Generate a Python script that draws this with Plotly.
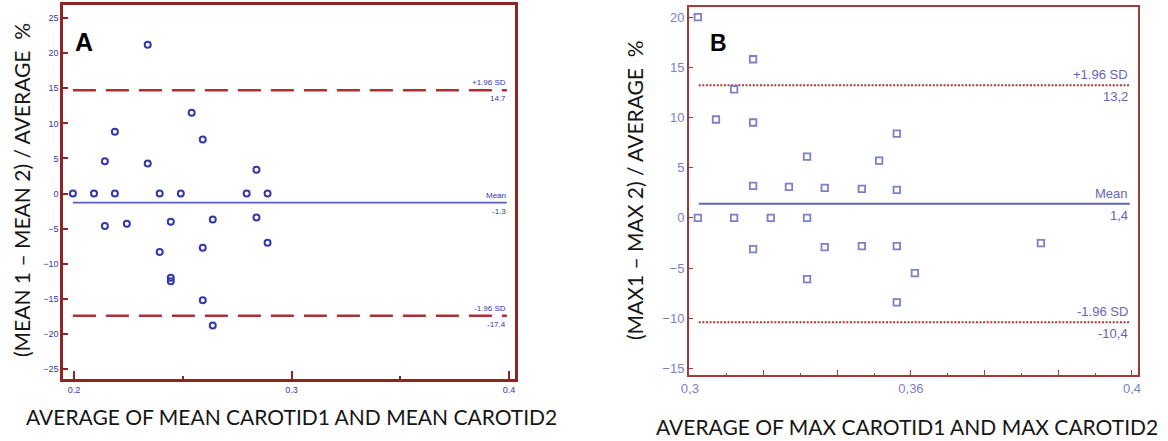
import plotly.graph_objects as go

# ---------------- data ----------------
# Panel A: Bland-Altman of mean carotid measurements
a_x = [0.1995, 0.2092, 0.2188, 0.2142, 0.2188, 0.2339, 0.2339, 0.2394, 0.2491, 0.2541,
       0.2592, 0.2794, 0.2839, 0.2890, 0.2142, 0.2243, 0.2445, 0.2638, 0.2839, 0.2394,
       0.2592, 0.2890, 0.2445, 0.2445, 0.2592, 0.2638]
a_y = [0, 0, 0, 4.6, 8.8, 21.2, 4.3, 0, 0, 11.5,
       7.7, 0, 3.4, 0, -4.6, -4.3, -4.0, -3.7, -3.4, -8.3,
       -7.7, -7.0, -12.0, -12.5, -15.2, -18.8]
a_mean, a_upper, a_lower = -1.3, 14.7, -17.4
a_labels = {"mean": "-1.3", "upper": "14.7", "lower": "-17.4"}
a_yticks = [25, 20, 15, 10, 5, 0, -5, -10, -15, -20, -25]
a_xticks = [0.2, 0.3, 0.4]
a_xticktext = ["0.2", "0.3", "0.4"]

# Panel B: Bland-Altman of max carotid measurements
b_x = [0.3018, 0.3059, 0.3100, 0.3143, 0.3143, 0.3143, 0.3143, 0.3224, 0.3265, 0.3265,
       0.3265, 0.3305, 0.3305, 0.3389, 0.3389, 0.3428, 0.3468, 0.3468, 0.3468, 0.3468,
       0.3509, 0.3794, 0.3018, 0.3100, 0.3183]
b_y = [20, 9.8, 12.8, 15.8, 9.5, 3.2, -3.1, 3.1, 6.1, 0,
       -6.1, 3.0, -2.9, 2.9, -2.8, 5.7, 8.4, 2.8, -2.8, -8.4,
       -5.5, -2.5, 0, 0, 0]
b_mean, b_upper, b_lower = 1.4, 13.2, -10.4
b_labels = {"mean": "1,4", "upper": "13,2", "lower": "-10,4"}
b_yticks = [20, 15, 10, 5, 0, -5, -10, -15]
b_xticks = [0.3 + i * 0.1 / 6 for i in range(7)]
b_xticktext = ["0,3", "", "", "0,36", "", "", "0,4"]

# ---------------- styles ----------------
W, H = 1168, 441
NARROW = "Liberation Sans Narrow, Arial Narrow, Liberation Sans, sans-serif"
TITLE_FONT = "Lato, Carlito, Calibri, sans-serif"
A_BLUE = "#3338a8"
B_BLUE = "#7d80c6"
A_RED = "#8e2424"
B_RED = "#a33a3a"


def px_x(p):
    return p / W


def px_y(p):
    return 1 - p / H


fig = go.Figure()

# ---- Panel A ----
a_line_x = [0.1995, 0.399]
fig.add_trace(go.Scatter(x=a_line_x, y=[a_upper] * 2, mode="lines", xaxis="x", yaxis="y",
                         line=dict(color="#a83232", width=2.5, dash="23px,10px"), hoverinfo="skip"))
fig.add_trace(go.Scatter(x=a_line_x, y=[a_lower] * 2, mode="lines", xaxis="x", yaxis="y",
                         line=dict(color="#a83232", width=2.5, dash="23px,10px"), hoverinfo="skip"))
fig.add_trace(go.Scatter(x=a_line_x, y=[a_mean] * 2, mode="lines", xaxis="x", yaxis="y",
                         line=dict(color="#5560c0", width=1.8), hoverinfo="skip"))
fig.add_trace(go.Scatter(x=a_x, y=a_y, mode="markers", xaxis="x", yaxis="y",
                         marker=dict(symbol="circle-open", size=6, color=A_BLUE,
                                     line=dict(width=2, color=A_BLUE))))

# ---- Panel B ----
b_line_x = [0.302, 0.3995]
fig.add_trace(go.Scatter(x=b_line_x, y=[b_upper] * 2, mode="lines", xaxis="x2", yaxis="y2",
                         line=dict(color=B_RED, width=2, dash="2px,1.6px"), hoverinfo="skip"))
fig.add_trace(go.Scatter(x=b_line_x, y=[b_lower] * 2, mode="lines", xaxis="x2", yaxis="y2",
                         line=dict(color=B_RED, width=2, dash="2px,1.6px"), hoverinfo="skip"))
fig.add_trace(go.Scatter(x=b_line_x, y=[b_mean] * 2, mode="lines", xaxis="x2", yaxis="y2",
                         line=dict(color="#6465bd", width=2), hoverinfo="skip"))
fig.add_trace(go.Scatter(x=b_x, y=b_y, mode="markers", xaxis="x2", yaxis="y2",
                         marker=dict(symbol="square-open", size=6.5, color=B_BLUE,
                                     line=dict(width=1.8, color=B_BLUE))))

axis_common = dict(showgrid=False, zeroline=False, showline=True, mirror=True, automargin=False)

fig.update_layout(
    width=W, height=H,
    margin=dict(l=0, r=0, t=0, b=0, autoexpand=False),
    paper_bgcolor="white", plot_bgcolor="white",
    showlegend=False,
    xaxis=dict(**axis_common, domain=[px_x(63), px_x(515)], range=[0.19495, 0.40275],
               linecolor=A_RED, linewidth=2.5,
               tickmode="array", tickvals=a_xticks, ticktext=a_xticktext,
               ticks="inside", ticklen=8, tickwidth=2, tickcolor=A_RED,
               minor=dict(tickmode="array", tickvals=[0.25, 0.35], ticks="inside",
                          ticklen=3, tickwidth=2, tickcolor=A_RED),
               tickfont=dict(family=NARROW, size=9, color=A_BLUE)),
    yaxis=dict(**axis_common, domain=[px_y(379), px_y(5)], range=[-26.4, 26.85],
               linecolor=A_RED, linewidth=2.5,
               tickmode="array", tickvals=a_yticks,
               ticks="inside", ticklen=5, tickwidth=2, tickcolor=A_RED,
               tickfont=dict(family=NARROW, size=9, color=A_BLUE)),
    xaxis2=dict(**axis_common, domain=[px_x(689), px_x(1138)], range=[0.2998, 0.40136],
                anchor="y2",
                linecolor=B_RED, linewidth=2,
                tickmode="array", tickvals=b_xticks, ticktext=b_xticktext,
                ticks="inside", ticklen=5, tickwidth=1.2, tickcolor=B_RED,
                minor=dict(tickmode="array",
                           tickvals=[0.3 + (2 * i + 1) * 0.1 / 12 for i in range(6)],
                           ticks="inside", ticklen=2, tickwidth=1, tickcolor=B_RED),
                tickfont=dict(family=NARROW, size=13, color=B_BLUE)),
    yaxis2=dict(**axis_common, domain=[px_y(375), px_y(7)], range=[-15.64, 21.0],
                anchor="x2",
                linecolor=B_RED, linewidth=2,
                tickmode="array", tickvals=b_yticks,
                ticks="inside", ticklen=4, tickwidth=1.2, tickcolor=B_RED,
                tickfont=dict(family=NARROW, size=13, color=B_BLUE)),
)

annotations = []

# Panel letters
annotations.append(dict(text="<b>A</b>", x=px_x(73), y=px_y(42), xref="paper", yref="paper",
                        xanchor="left", yanchor="middle", showarrow=False,
                        font=dict(family="Liberation Sans, Arial, sans-serif", size=25, color="black")))
annotations.append(dict(text="<b>B</b>", x=px_x(708), y=px_y(43), xref="paper", yref="paper",
                        xanchor="left", yanchor="middle", showarrow=False,
                        font=dict(family="Liberation Sans, Arial, sans-serif", size=23, color="black")))

# Axis titles
TITLE_COLOR = "#161616"
annotations.append(dict(text="(MEAN 1 \u2013 MEAN 2) / AVERAGE  %", x=px_x(22), y=px_y(190),
                        xref="paper", yref="paper", textangle=-90, showarrow=False,
                        xanchor="center", yanchor="middle",
                        font=dict(family=TITLE_FONT, size=21, color=TITLE_COLOR)))
annotations.append(dict(text="AVERAGE OF MEAN CAROTID1 AND MEAN CAROTID2", x=px_x(291), y=px_y(416),
                        xref="paper", yref="paper", showarrow=False,
                        xanchor="center", yanchor="middle",
                        font=dict(family=TITLE_FONT, size=21, color=TITLE_COLOR)))
annotations.append(dict(text="(MAX1 \u2013 MAX 2) / AVERAGE  %", x=px_x(635), y=px_y(190),
                        xref="paper", yref="paper", textangle=-90, showarrow=False,
                        xanchor="center", yanchor="middle",
                        font=dict(family=TITLE_FONT, size=21, color=TITLE_COLOR)))
annotations.append(dict(text="AVERAGE OF MAX CAROTID1 AND MAX CAROTID2", x=px_x(907), y=px_y(426),
                        xref="paper", yref="paper", showarrow=False,
                        xanchor="center", yanchor="middle",
                        font=dict(family=TITLE_FONT, size=21, color=TITLE_COLOR)))


# Reference line labels
def line_labels(xr, yr, xpos, mean, upper, lower, labels, size, color):
    out = []
    for val, top, bottom in [(upper, "+1.96 SD", labels["upper"]),
                             (mean, "Mean", labels["mean"]),
                             (lower, "-1.96 SD", labels["lower"])]:
        out.append(dict(text=top, x=xpos, y=val, xref=xr, yref=yr, showarrow=False,
                        xanchor="right", yanchor="bottom", yshift=1,
                        font=dict(family=NARROW, size=size, color=color)))
        out.append(dict(text=bottom, x=xpos, y=val, xref=xr, yref=yr, showarrow=False,
                        xanchor="right", yanchor="top", yshift=-2,
                        font=dict(family=NARROW, size=size, color=color)))
    return out


annotations += line_labels("x", "y", 0.3995, a_mean, a_upper, a_lower, a_labels, 8, A_BLUE)
annotations += line_labels("x2", "y2", 0.3995, b_mean, b_upper, b_lower, b_labels, 13, "#6366b8")

fig.update_layout(annotations=annotations)

fig.write_html("out.html")
